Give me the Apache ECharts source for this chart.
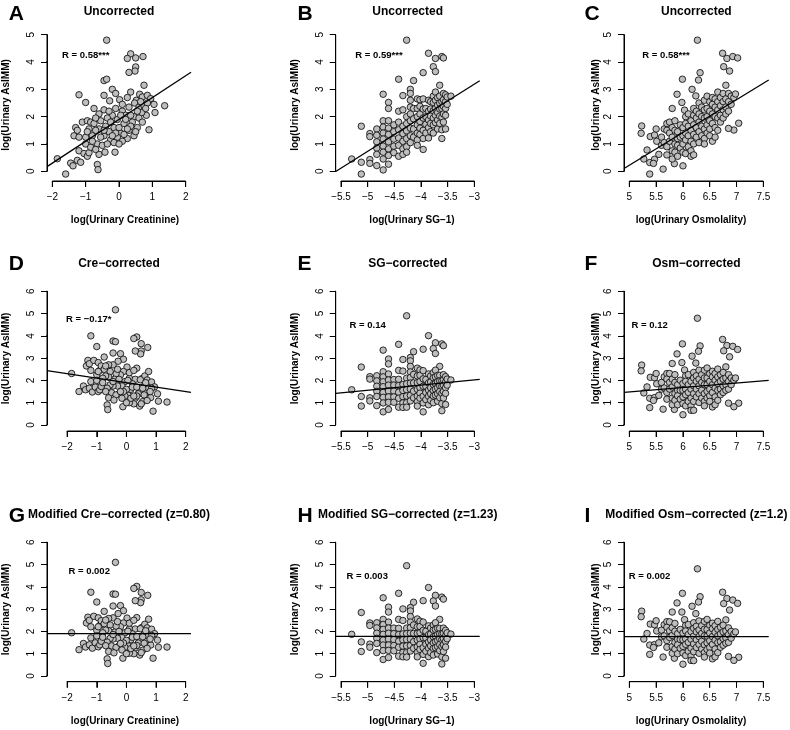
<!DOCTYPE html>
<html><head><meta charset="utf-8">
<script src="https://cdn.jsdelivr.net/npm/echarts@6/dist/echarts.min.js"></script>
<style>html,body{margin:0;padding:0;background:#fff}#c{width:790px;height:730px}</style>
</head><body><div id="c"></div>
<script>
// ---------- DATA ----------
const creX = [-0.37,0.35,0.25,0.50,0.72,0.50,0.48,0.30,-0.45,-0.37,
-1.20,-1.00,-0.75,-0.20,-0.10,0.02,-0.45,-0.28,0.35,0.52,
0.62,0.75,0.70,0.85,0.95,1.05,1.37,1.08,0.82,0.90,
-0.45,-0.10,0.10,0.30,0.47,0.45,0.20,0.60,0.68,0.40,
0.55,0.30,0.45,0.25,0.10,0.05,0.15,-0.05,-0.20,-0.35,
-0.15,-0.30,-0.05,-0.25,-0.45,-0.40,-0.55,-0.60,-0.55,-0.70,
-0.65,-0.50,-0.35,-0.15,-1.30,-1.35,-1.20,-1.25,-1.10,-0.95,
-0.90,-1.00,-0.85,-0.80,-0.75,-1.85,-1.60,-1.45,-1.38,-1.25,
-1.15,-1.20,-1.05,-0.95,-0.90,-1.00,-0.85,-0.65,-0.63,-0.60,
-0.42,-0.12,-0.70,0.00,0.20,-0.25,0.35,0.60,0.75,0.10,
-0.60,0.50,0.70,-0.10,0.35,-0.80,0.15,-0.30,0.55,0.85,
-0.20,0.05,0.25,-0.45,0.80,-0.95,0.25,0.00,0.65,-0.70];
const asUncorrCre = [4.80,4.30,4.13,4.15,4.20,3.82,3.67,3.62,3.32,3.37,
2.80,2.52,2.30,3.00,2.85,2.62,2.78,2.58,2.90,2.60,
2.82,3.15,2.72,2.78,2.66,2.45,2.40,2.15,2.05,1.52,
2.25,2.30,2.20,2.35,2.50,2.00,2.05,2.35,2.15,1.80,
1.60,1.50,1.30,1.20,1.10,1.40,1.75,1.90,2.05,1.95,
1.60,1.45,1.25,1.15,1.30,1.65,1.85,1.55,1.25,1.50,
1.00,0.95,1.00,1.05,1.60,1.30,1.25,1.50,1.80,1.85,
1.55,1.25,1.80,1.30,1.75,0.46,-0.10,0.30,0.20,0.40,
0.33,0.75,0.65,0.55,0.68,1.00,0.88,0.25,0.06,0.62,
0.70,0.70,0.80,1.60,1.90,1.80,2.05,1.95,2.40,2.45,
2.10,1.45,1.80,1.40,1.65,1.10,1.35,2.20,2.20,2.50,
1.30,2.05,1.55,1.50,2.30,1.45,2.70,1.00,2.55,1.95];
const asCre = [5.17,3.95,3.88,3.65,3.48,3.32,3.19,3.32,3.77,3.74,
4.00,3.52,3.05,3.20,2.95,2.60,3.23,2.86,2.55,2.08,
2.20,2.40,2.02,1.93,1.71,1.40,1.03,1.07,1.23,0.62,
2.70,2.40,2.10,2.05,2.03,1.55,1.85,1.75,1.47,1.40,
1.05,1.20,0.85,0.95,1.00,1.35,1.60,1.95,2.25,2.30,
1.75,1.75,1.30,1.40,1.75,2.05,2.40,2.15,1.80,2.20,
1.65,1.45,1.35,1.20,2.90,2.65,2.45,2.75,2.90,2.80,
2.45,2.25,2.65,2.10,2.50,2.31,1.50,1.75,1.58,1.65,
1.48,1.95,1.70,1.50,1.58,2.00,1.73,0.90,0.69,1.22,
1.12,0.82,1.50,1.60,1.70,2.05,1.70,1.35,1.65,2.35,
2.70,0.95,1.10,1.50,1.30,1.90,1.20,2.50,1.65,1.65,
1.50,2.00,1.30,1.95,1.50,2.40,2.45,1.00,1.90,2.65];
const asCreMod = [5.10,4.02,3.93,3.75,3.62,3.42,3.29,3.38,3.68,3.67,
3.76,3.32,2.90,3.16,2.93,2.60,3.14,2.80,2.62,2.18,
2.32,2.55,2.16,2.10,1.90,1.61,1.30,1.29,1.39,0.80,
2.61,2.38,2.12,2.11,2.12,1.64,1.89,1.87,1.61,1.48,
1.16,1.26,0.94,1.00,1.02,1.36,1.63,1.94,2.21,2.23,
1.72,1.69,1.29,1.35,1.66,1.97,2.29,2.03,1.69,2.06,
1.52,1.35,1.28,1.17,2.64,2.38,2.21,2.50,2.68,2.61,
2.27,2.05,2.48,1.94,2.35,1.94,1.18,1.46,1.30,1.40,
1.25,1.71,1.49,1.31,1.40,1.80,1.56,0.77,0.56,1.10,
1.04,0.80,1.36,1.60,1.74,2.00,1.77,1.47,1.80,2.37,
2.58,1.05,1.24,1.48,1.37,1.74,1.23,2.44,1.76,1.82,
1.46,2.01,1.35,1.86,1.66,2.21,2.50,1.00,2.03,2.51];

const sgX = [-4.27,-3.86,-3.73,-3.61,-3.58,-3.77,-3.73,-3.96,-4.42,-4.14,
-4.71,-4.61,-4.61,-4.34,-4.20,-4.20,-4.20,-3.65,-5.12,-5.30,
-5.12,-5.12,-4.96,-4.96,-4.83,-4.71,-4.61,-4.96,-4.96,-4.83,
-4.83,-4.83,-4.83,-4.83,-4.71,-4.71,-4.71,-4.71,-4.71,-4.71,
-4.71,-4.61,-4.61,-4.61,-4.61,-4.61,-4.61,-4.51,-4.51,-4.51,
-4.51,-4.51,-4.42,-4.42,-4.42,-4.42,-4.42,-4.42,-4.34,-4.34,
-4.34,-4.34,-4.34,-4.34,-4.27,-4.27,-4.27,-4.27,-4.27,-4.27,
-4.20,-4.20,-4.20,-4.20,-4.20,-4.20,-4.14,-4.14,-4.14,-4.14,
-4.07,-4.07,-4.07,-4.07,-4.07,-4.07,-4.07,-4.02,-4.02,-4.02,
-4.02,-4.02,-4.02,-3.96,-3.96,-3.96,-3.96,-3.96,-3.96,-3.91,
-3.91,-3.91,-3.91,-3.86,-3.86,-3.86,-3.86,-3.86,-3.82,-3.82,
-3.82,-3.82,-3.82,-3.77,-3.77,-3.77,-3.77,-3.77,-3.77,-3.73,
-3.73,-3.73,-3.73,-3.73,-3.69,-3.69,-3.69,-3.69,-3.69,-3.65,
-3.65,-3.65,-3.65,-3.65,-3.61,-3.61,-3.61,-3.61,-3.61,-3.58,
-3.58,-3.58,-3.58,-3.58,-3.54,-3.54,-3.54,-3.54,-3.51,-3.51,
-3.44,-3.54];
const asUncorrSg = [4.80,4.32,4.13,4.20,4.15,3.83,3.65,3.61,3.37,3.32,
2.82,2.52,2.30,2.77,3.00,2.85,2.60,3.15,1.65,0.45,
-0.10,0.33,0.43,0.29,0.21,0.05,0.26,1.38,1.27,1.55,
1.32,1.08,0.85,0.62,1.85,1.62,1.40,1.18,0.92,0.70,
0.45,1.85,1.58,1.35,1.08,0.82,0.58,1.70,1.45,1.18,
0.92,0.68,2.20,1.80,1.52,1.22,0.95,0.55,2.25,1.65,
1.38,1.10,0.82,0.62,2.00,1.75,1.48,1.20,0.90,0.70,
2.35,2.10,1.85,1.58,1.30,1.05,2.30,1.92,1.55,1.25,
2.65,2.30,2.00,1.70,1.40,1.15,0.95,2.62,2.38,2.10,
1.82,1.58,1.35,2.65,2.28,1.95,1.50,1.20,0.80,2.30,
2.00,1.72,1.40,2.60,2.20,1.88,1.60,1.22,2.55,2.28,
2.02,1.75,1.45,2.75,2.52,2.22,1.95,1.70,1.40,2.90,
2.60,2.30,2.05,1.78,2.70,2.42,2.15,1.88,1.55,2.75,
2.50,2.28,2.02,1.75,2.55,2.30,1.98,1.52,1.20,2.85,
2.62,2.38,2.10,1.80,2.80,2.55,2.30,2.05,2.72,2.45,
2.75,1.55];
const asSg = [4.90,4.01,3.69,3.64,3.56,3.43,3.21,3.40,3.62,3.29,
3.36,2.96,2.74,2.94,3.03,2.88,2.63,2.63,2.60,1.58,
0.85,1.28,1.22,1.08,0.87,0.59,0.70,2.17,2.06,2.21,
1.98,1.74,1.51,1.28,2.39,2.16,1.94,1.72,1.46,1.24,
0.99,2.29,2.02,1.79,1.52,1.26,1.02,2.04,1.79,1.52,
1.26,1.02,2.45,2.05,1.77,1.47,1.20,0.80,2.42,1.82,
1.55,1.27,0.99,0.79,2.10,1.85,1.58,1.30,1.00,0.80,
2.38,2.13,1.88,1.61,1.33,1.08,2.27,1.89,1.52,1.22,
2.55,2.20,1.90,1.60,1.30,1.05,0.85,2.47,2.23,1.95,
1.67,1.43,1.20,2.44,2.07,1.74,1.29,0.99,0.59,2.04,
1.74,1.46,1.14,2.29,1.89,1.57,1.29,0.91,2.20,1.93,
1.67,1.40,1.10,2.35,2.12,1.82,1.55,1.30,1.00,2.46,
2.16,1.86,1.61,1.34,2.22,1.94,1.67,1.40,1.07,2.23,
1.98,1.76,1.50,1.23,1.99,1.74,1.42,0.96,0.64,2.26,
2.03,1.79,1.51,1.21,2.17,1.92,1.67,1.42,2.06,1.79,
2.02,0.92];
const asSgMod = [4.95,3.97,3.62,3.54,3.45,3.37,3.14,3.38,3.71,3.31,
3.51,3.09,2.87,3.01,3.07,2.92,2.67,2.54,2.85,1.87,
1.10,1.53,1.43,1.29,1.05,0.74,0.83,2.38,2.27,2.39,
2.16,1.92,1.69,1.46,2.54,2.31,2.09,1.87,1.61,1.39,
1.14,2.42,2.15,1.92,1.65,1.39,1.15,2.15,1.90,1.63,
1.37,1.13,2.54,2.14,1.86,1.56,1.29,0.89,2.49,1.89,
1.62,1.34,1.06,0.86,2.15,1.90,1.63,1.35,1.05,0.85,
2.42,2.17,1.92,1.65,1.37,1.12,2.29,1.91,1.54,1.24,
2.56,2.21,1.91,1.61,1.31,1.06,0.86,2.46,2.22,1.94,
1.66,1.42,1.19,2.42,2.05,1.72,1.27,0.97,0.57,2.01,
1.71,1.43,1.11,2.25,1.85,1.53,1.25,0.87,2.15,1.88,
1.62,1.35,1.05,2.29,2.06,1.76,1.49,1.24,0.94,2.39,
2.09,1.79,1.54,1.27,2.14,1.86,1.59,1.32,0.99,2.14,
1.89,1.67,1.41,1.14,1.89,1.64,1.32,0.86,0.54,2.15,
1.92,1.68,1.40,1.10,2.05,1.80,1.55,1.30,1.94,1.67,
1.88,0.80];

const osmX = [6.27,6.74,6.82,6.93,7.02,6.76,6.87,6.32,6.29,5.99,
5.89,5.98,5.80,6.03,6.17,6.24,6.80,5.23,5.22,5.27,
5.38,5.38,5.47,5.45,5.33,5.55,5.63,5.84,6.00,5.39,
5.47,5.51,7.04,6.95,6.85,5.60,5.60,5.65,5.65,5.70,
5.70,5.70,5.70,5.75,5.75,5.75,5.80,5.80,5.80,5.80,
5.85,5.85,5.85,5.85,5.90,5.90,5.90,5.90,5.95,5.95,
5.95,6.00,6.00,6.00,6.00,6.05,6.05,6.05,6.05,6.05,
6.10,6.10,6.10,6.10,6.15,6.15,6.15,6.15,6.15,6.20,
6.20,6.20,6.20,6.20,6.20,6.25,6.25,6.25,6.25,6.30,
6.30,6.30,6.30,6.30,6.35,6.35,6.35,6.35,6.40,6.40,
6.40,6.40,6.40,6.40,6.45,6.45,6.45,6.45,6.45,6.50,
6.50,6.50,6.50,6.50,6.55,6.55,6.55,6.55,6.55,6.60,
6.60,6.60,6.60,6.60,6.65,6.65,6.65,6.65,6.65,6.70,
6.70,6.70,6.70,6.75,6.75,6.75,6.75,6.80,6.80,6.80,
6.85,6.85,6.85,6.90,6.90,6.95,5.50,6.98];
const asUncorrOsm = [4.80,4.32,4.13,4.20,4.15,3.83,3.67,3.61,3.34,3.37,
2.82,2.52,2.30,2.24,3.00,2.76,3.15,1.66,1.39,0.45,
-0.10,0.32,0.44,0.29,0.78,0.62,0.08,0.28,0.20,1.27,
1.33,1.10,1.76,1.51,1.57,1.25,0.95,1.55,1.05,1.75,
1.50,0.90,0.60,1.80,1.40,1.10,1.60,1.25,0.75,0.45,
1.85,1.50,1.00,0.70,1.45,1.20,0.95,0.55,1.70,1.25,
0.85,1.60,1.30,1.00,0.70,2.00,1.75,1.40,1.15,0.65,
2.10,1.65,1.30,0.90,1.85,1.50,1.10,0.75,0.55,2.30,
2.05,1.70,1.35,1.00,0.60,2.20,1.95,1.60,1.25,2.50,
2.10,1.80,1.45,1.05,2.35,2.00,1.65,1.30,2.60,2.25,
1.95,1.55,1.20,1.00,2.75,2.30,2.00,1.70,1.40,2.55,
2.20,1.85,1.55,1.30,2.70,2.45,2.10,1.75,1.10,2.65,
2.35,2.00,1.60,1.25,2.90,2.55,2.25,1.95,1.50,2.70,
2.40,2.05,1.80,2.85,2.55,2.25,1.95,2.65,2.35,2.10,
2.85,2.55,2.20,2.75,2.45,2.70,1.55,2.83];
const asOsm = [4.79,3.84,3.57,3.53,3.39,3.33,3.06,3.55,3.31,3.64,
3.19,2.80,2.76,2.47,3.09,2.78,2.61,2.69,2.43,1.44,
0.78,1.20,1.23,1.10,1.71,1.33,0.71,0.70,0.46,2.14,
2.12,1.85,0.98,0.82,0.98,1.91,1.61,2.16,1.66,2.31,
2.06,1.46,1.16,2.31,1.91,1.61,2.06,1.71,1.21,0.91,
2.26,1.91,1.41,1.11,1.81,1.56,1.31,0.91,2.01,1.56,
1.16,1.86,1.56,1.26,0.96,2.21,1.96,1.61,1.36,0.86,
2.26,1.81,1.46,1.06,1.96,1.61,1.21,0.86,0.66,2.36,
2.11,1.76,1.41,1.06,0.66,2.21,1.96,1.61,1.26,2.46,
2.06,1.76,1.41,1.01,2.26,1.91,1.56,1.21,2.46,2.11,
1.81,1.41,1.06,0.86,2.56,2.11,1.81,1.51,1.21,2.31,
1.96,1.61,1.31,1.06,2.41,2.16,1.81,1.46,0.81,2.31,
2.01,1.66,1.26,0.91,2.51,2.16,1.86,1.56,1.11,2.26,
1.96,1.61,1.36,2.36,2.06,1.76,1.46,2.11,1.81,1.56,
2.26,1.96,1.61,2.11,1.81,2.01,2.31,2.11];
const asOsmMod = [4.81,3.76,3.48,3.41,3.26,3.25,2.96,3.56,3.32,3.71,
3.28,2.87,2.87,2.53,3.13,2.80,2.52,2.91,2.66,1.66,
0.97,1.39,1.41,1.28,1.91,1.49,0.85,0.80,0.53,2.33,
2.30,2.02,0.84,0.70,0.88,2.06,1.76,2.30,1.80,2.44,
2.19,1.59,1.29,2.43,2.03,1.73,2.17,1.82,1.32,1.02,
2.36,2.01,1.51,1.21,1.90,1.65,1.40,1.00,2.09,1.64,
1.24,1.93,1.63,1.33,1.03,2.27,2.02,1.67,1.42,0.92,
2.31,1.86,1.51,1.11,2.00,1.65,1.25,0.90,0.70,2.39,
2.14,1.79,1.44,1.09,0.69,2.23,1.98,1.63,1.28,2.47,
2.07,1.77,1.42,1.02,2.26,1.91,1.56,1.21,2.45,2.10,
1.80,1.40,1.05,0.85,2.54,2.09,1.79,1.49,1.19,2.28,
1.93,1.58,1.28,1.03,2.37,2.12,1.77,1.42,0.77,2.26,
1.96,1.61,1.21,0.86,2.45,2.10,1.80,1.50,1.05,2.19,
1.89,1.54,1.29,2.28,1.98,1.68,1.38,2.02,1.72,1.47,
2.16,1.86,1.51,2.00,1.70,1.89,2.48,1.98];

const panelLetters = ['A','B','C','D','E','F','G','H','I'];
const panelTitles = ['Uncorrected','Uncorrected','Uncorrected',
  'Cre\u2212corrected','SG\u2212corrected','Osm\u2212corrected',
  'Modified Cre\u2212corrected (z=0.80)','Modified SG\u2212corrected (z=1.23)','Modified Osm\u2212corrected (z=1.2)'];
const rLabels = ['R = 0.58***','R = 0.59***','R = 0.58***','R = \u22120.17*','R = 0.14','R = 0.12','R = 0.002','R = 0.003','R = 0.002'];
const fitIntercepts = [1.90, 6.88, -5.78, 1.90, 2.71, 0.48, 1.90, 1.78, 1.77];
const fitSlopes = [0.80, 1.23, 1.20, -0.20, 0.23, 0.20, 0, 0, 0];
const xAxisTitles = ['log(Urinary Creatinine)', 'log(Urinary SG\u22121)', 'log(Urinary Osmolality)'];
const yAxisTitle = 'log(Urinary AsIMM)';
const xTickSpecs = [[-2, 2, 1], [-5.5, -3, 0.5], [5, 7.5, 0.5]];   // min, max, step
const yTickSpecs = [[0, 5, 1], [0, 6, 1], [0, 6, 1]];
const xRanges = [[-2.16,2.16],[-5.6,-2.9],[4.9,7.6],[-2.68,2.18],[-5.6,-2.9],[4.9,7.6],[-2.68,2.18],[-5.6,-2.9],[4.9,7.6]];

const panelX = [creX, sgX, osmX, creX, sgX, osmX, creX, sgX, osmX];
const panelY = [asUncorrCre, asUncorrSg, asUncorrOsm, asCre, asSg, asOsm, asCreMod, asSgMod, asOsmMod];

// ---------- LAYOUT ----------
const FONT = '"Liberation Sans", Arial, Helvetica, sans-serif';
const colLeft = [47, 335.7, 624], colRight = [191, 479.7, 768.7];
const rowTop = [29, 286, 537], rowBottom = [181, 431, 681.7];
const rowTick0 = [171.3, 425, 676], rowTickMax = [34.7, 291.3, 542.3];
const letterX = [8.8, 297.5, 584.5], letterY = [14.2, 264.7, 516];
const titleY = [11.7, 263.3, 515];
const xTitleX = [125, 412, 691], xTitleY = [220, null, 721];
const yTitleX = [6.5, 295, 596.3];
const rPos = [[85.7,55.3],[379,55.3],[666,55],[88.7,319.3],[367.7,325],[649.7,325],[89.2,571],[367.2,576],[649.5,576]];
const TICK_PX = 6;

const grids = [], xAxes = [], yAxes = [], series = [], graphics = [];
const fmt = v => String(+v.toFixed(2)).replace('-', '\u2212');
const mkLine = () => ({show: true, onZero: true, lineStyle: {color: '#000', width: 1, opacity: 1, type: 'solid'}});
const mkTick = () => ({show: true, inside: false, length: TICK_PX, lineStyle: {color: '#000', width: 1, opacity: 1}});
// helper axis (range -1..1) whose zero sits in the middle of its grid: the visible axis is drawn there (onZero)
const helperAxis = (gi) => ({gridIndex: gi, type: 'value', min: -1, max: 1,
  axisLine: {show: false, onZero: false}, axisTick: {show: false}, axisLabel: {show: false}, splitLine: {show: false}});
const hiddenAxis = (gi, min, max) => ({gridIndex: gi, type: 'value', min, max, show: false});
// axis line / tick segment drawn through the data grid's own scales (not clipped)
const axisSeg = (gi, pts) => ({type: 'line', xAxisIndex: gi, yAxisIndex: gi, data: pts, symbol: 'none',
  silent: true, clip: false, z: 4, lineStyle: {color: '#000', width: 1}});
const HALF = 30;
const X_LABEL_MARGIN = -18.5, Y_LABEL_MARGIN = -19.5;   // labels are placed from the helper grid edge

for (let p = 0; p < 9; p++) {
  const row = Math.floor(p / 3), col = p % 3;
  const left = colLeft[col], width = colRight[col] - colLeft[col];
  const top = rowTop[row], height = rowBottom[row] - rowTop[row];
  const yt = yTickSpecs[row], xt = xTickSpecs[col], xr = xRanges[p];
  const pxPerY = (rowTick0[row] - rowTickMax[row]) / (yt[1] - yt[0]);
  const yMin = yt[0] - (rowBottom[row] - rowTick0[row]) / pxPerY;
  const yMax = yt[1] + (rowTickMax[row] - top) / pxPerY;
  const pxPerX = width / (xr[1] - xr[0]);
  const agL = left + (xt[0] - xr[0]) * pxPerX;
  const agR = left + (xt[1] - xr[0]) * pxPerX;

  const gi = grids.length;
  // 1) data grid (full plotting region, axes hidden)
  grids.push({left, top, width, height, show: false});
  xAxes.push(hiddenAxis(gi, xr[0], xr[1]));
  yAxes.push(hiddenAxis(gi, yMin, yMax));
  // 2) x-axis grid (labels)
  grids.push({left: agL, top: rowBottom[row] - HALF, width: agR - agL, height: 2 * HALF, show: false});
  xAxes.push({gridIndex: gi + 1, type: 'value', min: xt[0], max: xt[1], interval: xt[2], position: 'bottom',
    splitLine: {show: false}, axisLine: mkLine(), axisTick: mkTick(),
    axisLabel: {show: true, color: '#000', fontSize: 10, fontFamily: FONT, margin: X_LABEL_MARGIN, formatter: fmt, showMinLabel: true, showMaxLabel: true, hideOverlap: false}});
  yAxes.push(helperAxis(gi + 1));
  // 3) y-axis grid (labels)
  grids.push({left: left - HALF, top: rowTickMax[row], width: 2 * HALF, height: rowTick0[row] - rowTickMax[row], show: false});
  xAxes.push(helperAxis(gi + 2));
  yAxes.push({gridIndex: gi + 2, type: 'value', min: yt[0], max: yt[1], interval: yt[2], position: 'left',
    splitLine: {show: false}, axisLine: mkLine(), axisTick: mkTick(),
    axisLabel: {show: true, color: '#000', fontSize: 10, fontFamily: FONT, margin: Y_LABEL_MARGIN, rotate: 90, formatter: fmt, showMinLabel: true, showMaxLabel: true, hideOverlap: false}});

  const xs = panelX[p], ys = panelY[p];
  series.push({type: 'scatter', xAxisIndex: gi, yAxisIndex: gi, data: xs.map((x, i) => [x, ys[i]]),
    symbol: 'circle', symbolSize: 6.5, silent: true, z: 2,
    itemStyle: {color: '#bebebe', borderColor: '#000', borderWidth: 0.8, opacity: 1}});
  const a = fitIntercepts[p], b = fitSlopes[p];
  series.push({type: 'line', xAxisIndex: gi, yAxisIndex: gi, data: [[xr[0], a + b * xr[0]], [xr[1], a + b * xr[1]]],
    symbol: 'none', silent: true, z: 3, clip: true, lineStyle: {color: '#000', width: 1.3}});

  // R-style axis lines (tick range only) and outward ticks, via the data grid scales
  const tickDY = TICK_PX / pxPerY, tickDX = TICK_PX / pxPerX;
  series.push(axisSeg(gi, [[xt[0], yMin], [xt[1], yMin]]));
  for (let k = 0; xt[0] + k * xt[2] <= xt[1] + 1e-9; k++) {
    const t = xt[0] + k * xt[2];
    series.push(axisSeg(gi, [[t, yMin], [t, yMin - tickDY]]));
  }
  series.push(axisSeg(gi, [[xr[0], yt[0]], [xr[0], yt[1]]]));
  for (let k = 0; yt[0] + k * yt[2] <= yt[1] + 1e-9; k++) {
    const v = yt[0] + k * yt[2];
    series.push(axisSeg(gi, [[xr[0], v], [xr[0] - tickDX, v]]));
  }

  const cx = (colLeft[col] + colRight[col]) / 2;
  graphics.push({type: 'text', x: letterX[col], y: letterY[row], silent: true,
    style: {text: panelLetters[p], fill: '#000', fontSize: 21, fontWeight: 'bold', fontFamily: FONT, textAlign: 'left', textVerticalAlign: 'middle'}});
  graphics.push({type: 'text', x: cx, y: titleY[row], silent: true,
    style: {text: panelTitles[p], fill: '#000', fontSize: 12, fontWeight: 'bold', fontFamily: FONT, textAlign: 'center', textVerticalAlign: 'middle'}});
  graphics.push({type: 'text', x: rPos[p][0], y: rPos[p][1], silent: true,
    style: {text: rLabels[p], fill: '#000', fontSize: 9.5, fontWeight: 'bold', fontFamily: FONT, textAlign: 'center', textVerticalAlign: 'middle'}});
  graphics.push({type: 'text', x: yTitleX[col], y: (rowTop[row] + rowBottom[row]) / 2, rotation: Math.PI / 2, silent: true,
    style: {text: yAxisTitle, fill: '#000', fontSize: 10, fontWeight: 'bold', fontFamily: FONT, textAlign: 'center', textVerticalAlign: 'middle'}});
  if (xTitleY[row] !== null) {
    graphics.push({type: 'text', x: xTitleX[col], y: xTitleY[row], silent: true,
      style: {text: xAxisTitles[col], fill: '#000', fontSize: 10, fontWeight: 'bold', fontFamily: FONT, textAlign: 'center', textVerticalAlign: 'middle'}});
  }
}

const chart = echarts.init(document.getElementById('c'), null, {renderer: 'canvas'});
chart.setOption({
  backgroundColor: '#fff', animation: false,
  grid: grids, xAxis: xAxes, yAxis: yAxes, series: series, graphic: graphics
});
</script></body></html>
